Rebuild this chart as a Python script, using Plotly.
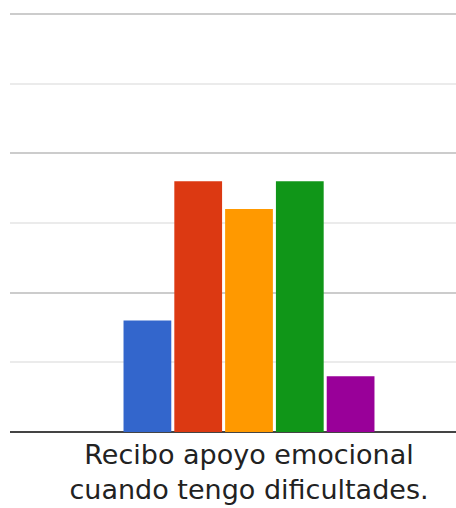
import plotly.graph_objects as go

category = "Recibo apoyo emocional<br>cuando tengo dificultades."
series_names = ["1", "2", "3", "4", "5"]
values = [8, 18, 16, 18, 4]
colors = ["#3366cc", "#dc3912", "#ff9900", "#109618", "#990099"]

fig = go.Figure()
for name, v, c in zip(series_names, values, colors):
    fig.add_trace(go.Bar(x=[0], y=[v], name=name, marker=dict(color=c, line=dict(width=0))))

fig.update_layout(
    width=456, height=508,
    margin=dict(l=10, r=0, t=0, b=76, autoexpand=False),
    paper_bgcolor="white", plot_bgcolor="white",
    barmode="group", bargap=0.365, bargroupgap=0.06,
    showlegend=False,
    font=dict(family="DejaVu Sans, sans-serif", color="#222222"),
    xaxis=dict(
        range=[-0.5975, 0.5175], tickvals=[0], ticktext=[category],
        showgrid=False, zeroline=False, showline=False, ticks="",
        tickfont=dict(size=27, color="#222222"), ticklabelstandoff=4,
    ),
    yaxis=dict(
        range=[0, 31.0], dtick=10, showticklabels=False,
        gridcolor="#cccccc", gridwidth=2, zeroline=True, zerolinecolor="#444444", zerolinewidth=2,
        minor=dict(dtick=5, showgrid=True, gridcolor="#ebebeb", gridwidth=2),
        showline=False, ticks="",
    ),
)
fig.write_html(
    "out.html",
    config={"displayModeBar": False},
    post_script="document.body.style.margin='0';document.body.style.overflow='hidden';",
)
